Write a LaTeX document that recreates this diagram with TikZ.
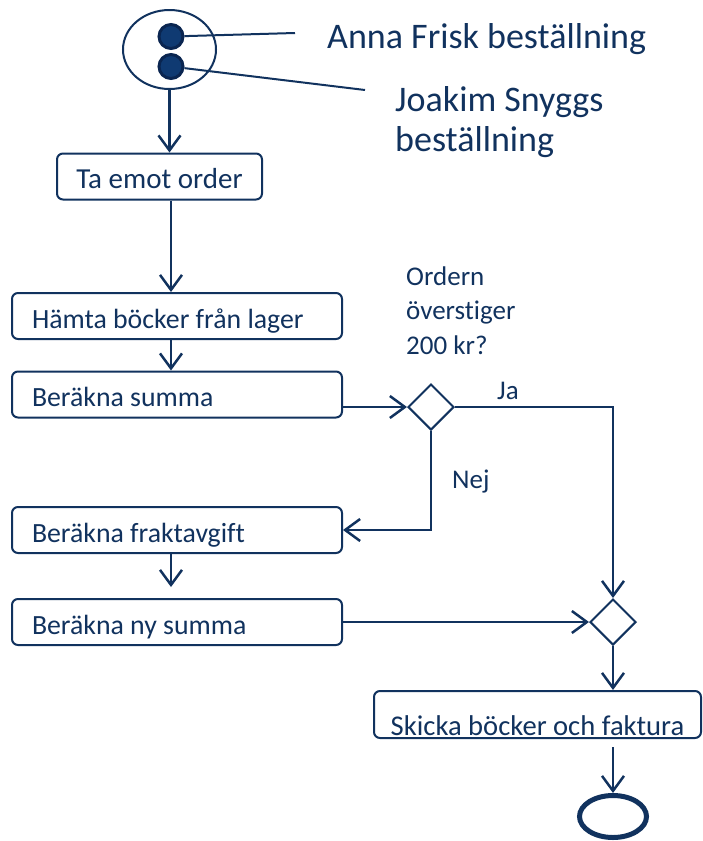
\documentclass[tikz,border=0pt]{standalone}
\usepackage{fontspec}
\setmainfont{Carlito}[Ligatures=NoCommon]
\usetikzlibrary{arrows.meta,shapes.geometric}
\definecolor{navy}{HTML}{11325E}
\definecolor{dotring}{HTML}{0A2550}
\definecolor{dotfill}{HTML}{0F3A72}
\tikzset{
  every node/.style={text=navy},
  activity/.style={draw=navy, line width=2pt, rounded corners=6pt, fill=white,
    minimum height=46pt, inner ysep=0pt, text height=35pt, text depth=11pt,
    font=\fontsize{27.8}{32}\selectfont},
  leftbox/.style={activity, text width=290pt, inner xsep=20pt, align=flush left},
  decision/.style={draw=navy, line width=2pt, diamond, aspect=1,
    minimum width=46pt, minimum height=46pt, inner sep=0pt},
  flow/.style={draw=navy, line width=2.5pt, -{Straight Barb[length=15pt, width=22pt, line width=2.5pt]}},
  plain/.style={draw=navy, line width=2pt},
  note/.style={font=\fontsize{27}{34.5}\selectfont, align=left, inner sep=0pt},
  bignote/.style={font=\fontsize{36}{40}\selectfont, align=left, inner sep=0pt},
  token/.style={circle, draw=dotring, fill=dotfill, line width=3pt, minimum size=24pt, inner sep=0pt},
}
\begin{document}
\begin{tikzpicture}[x=1pt, y=-1pt]
\useasboundingbox (0,0) rectangle (702,841);

% start: the two incoming orders
\node[ellipse, draw=navy, line width=2pt, minimum width=93pt, minimum height=79pt] (start) at (169.5,49.5) {};
\node[token] (anna) at (171,36.5) {};
\node[token] (joakim) at (171,66.5) {};
\coordinate (annaEnd) at (295,33);
\coordinate (joakimEnd) at (365,90);
\draw[plain] (anna) -- (annaEnd);
\draw[plain] (joakim) -- (joakimEnd);
% multi-line notes are anchored at the baseline of their last line
\node[bignote, anchor=base west] (annaText) at (327,48) {Anna Frisk beställning};
\node[bignote, anchor=base west] (joakimText) at (395,151) {Joakim Snyggs\\beställning};

% main column of activities
\coordinate (spine) at (171,0);
\node[activity, minimum width=205pt, inner xsep=0pt, font=\fontsize{29}{32}\selectfont] (order) at (159.5,176.5) {Ta emot order};
\node[leftbox] (hamta) at (177,316) {Hämta böcker från lager};
\node[leftbox] (summa) at (177,394.5) {Beräkna summa};
\node[leftbox] (frakt) at (177,530) {Beräkna fraktavgift};
\node[leftbox] (nysumma) at (177,622) {Beräkna ny summa};

% decisions
\node[decision] (check) at (431,407) {};
\node[decision] (merge) at (613,622) {};
\node[note, anchor=base west] (question) at (406,354) {Ordern\\överstiger\\200 kr?};
\node[note, anchor=base west] (ja) at (497,399) {Ja};
\node[note, anchor=base west] (nej) at (452,488) {Nej};

% shipping and end
\node[activity, minimum width=327pt, minimum height=47pt, text height=44pt, text depth=3pt, font=\fontsize{28.6}{32}\selectfont] (skicka) at (537.5,714.5) {Skicka böcker och faktura};
\node[ellipse, draw=navy, line width=5pt, minimum width=67pt, minimum height=42pt, inner sep=0pt] (stop) at (613,816.5) {};

% connectors
\draw[flow] (start.south) -- (start.south |- order.north);
\draw[flow] (order.south -| spine) -- (hamta.north -| spine);
\draw[flow] (hamta.south -| spine) -- (summa.north -| spine);
\draw[flow] (check.west -| summa.east) -- (check.west);
\draw[flow] (check.east) -| (merge.north);
\draw[flow] (check.south) |- (frakt.east);
\coordinate (fraktEnd) at (171,587);
\draw[flow] (frakt.south -| spine) -- (fraktEnd);
\draw[flow] (nysumma.east) -- (merge.west);
\draw[flow] (merge.south) -- (skicka.north -| merge.south);
\coordinate (skickaOut) at (613,747);
\draw[flow] (skickaOut) -- (stop.north);
\end{tikzpicture}
\end{document}
